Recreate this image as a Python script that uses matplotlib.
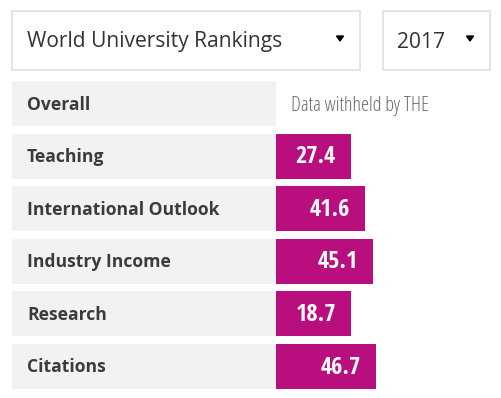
import matplotlib.pyplot as plt
from matplotlib.patches import Rectangle, Polygon

# %% data
categories = ["Overall", "Teaching", "International Outlook", "Industry Income", "Research", "Citations"]
scores = [None, 27.4, 41.6, 45.1, 18.7, 46.7]
ranking_name = "World University Rankings"
year = "2017"
withheld_text = "Data withheld by THE"

# %% layout (pixel units)
W, H = 502, 398
label_x0, label_x1 = 12, 276
row_top0, row_pitch, row_h = 81, 52.6, 45
min_bar = 75
px_per_point = 2.14
bar_color = "#b90e7e"
box_color = "#f2f2f2"
text_color = "#3e3a3b"

fig = plt.figure(figsize=(W / 100, H / 100), dpi=100)
ax = fig.add_axes([0, 0, 1, 1])
ax.set_xlim(0, W)
ax.set_ylim(H, 0)
ax.axis("off")

# dropdowns
for x0, x1, txt, tx, ax_arrow in [(12, 361, ranking_name, 27, 340), (383, 491, year, 397, 470)]:
    ax.add_patch(Rectangle((x0 + 0.5, 10.5), x1 - x0 - 1, 59, facecolor="white",
                           edgecolor="#e2e2e2", lw=1.3))
    ax.text(tx, 42, txt, fontsize=15.1, family="Open Sans", color="#333333",
            va="center", ha="left")
    ax.add_patch(Polygon([(ax_arrow - 3.5, 36), (ax_arrow + 3.5, 36), (ax_arrow, 41)],
                         closed=True, color="black"))

# rows
ys = [row_top0 + i * row_pitch + row_h / 2 for i in range(len(categories))]
ax.barh(ys, label_x1 - label_x0, left=label_x0, height=row_h, color=box_color)
for y, cat in zip(ys, categories):
    ax.text(27, y + 1, cat, fontsize=12.6, family="Open Sans", weight="bold",
            color=text_color, va="center", ha="left")

for y, v in zip(ys, scores):
    if v is None:
        ax.text(291, y + 3, withheld_text, fontsize=14.6, family="Open Sans",
                stretch="condensed", weight="light", color="#6b6b6b", va="center")
        continue
    w = max(min_bar, v * px_per_point)
    ax.barh(y, w, left=label_x1, height=row_h, color=bar_color)
    ax.text(label_x1 + w - 15, y + 1, f"{v:.1f}", fontsize=17.5, family="Open Sans Condensed",
            weight="bold", color="white", va="center", ha="right")

fig.savefig("out.png", dpi=100)
